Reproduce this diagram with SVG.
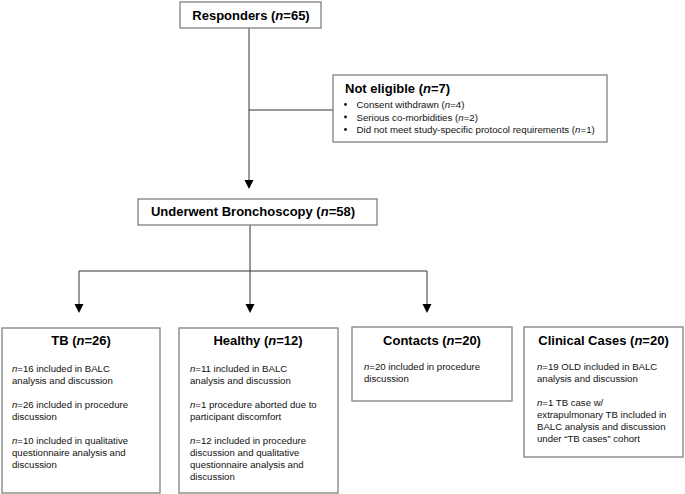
<svg xmlns="http://www.w3.org/2000/svg" width="685" height="494" viewBox="0 0 685 494">
<style>
.box{fill:#fff;stroke:#808080;stroke-width:1.3}
.t{font-family:"Liberation Sans",Arial,sans-serif;font-weight:bold;font-size:13px;fill:#000;text-anchor:middle}
.b{font-family:"Liberation Sans",Arial,sans-serif;font-size:9.6px;fill:#111}
.s{font-family:"Liberation Sans",Arial,sans-serif;font-size:9.7px;fill:#111}
.c{fill:none;stroke:#333;stroke-width:1}
.ah{fill:#000}
</style>
<rect width="685" height="494" fill="#fff"/>
<g id="connectors">
<path class="c" d="M249,28 V182"/>
<path class="c" d="M249,110 H333"/>
<path class="c" d="M250,225 V271"/>
<path class="c" d="M79,305 V271 H427 V305"/>
<path class="c" d="M250,271 V305"/>
<polygon class="ah" points="244.5,180 253.5,180 249,189"/>
<polygon class="ah" points="74.5,304 83.5,304 79,313"/>
<polygon class="ah" points="245.5,304 254.5,304 250,313"/>
<polygon class="ah" points="422.5,304 431.5,304 427,313"/>
</g>
<g id="responders">
<rect class="box" x="180" y="2" width="141" height="26"/>
<text class="t" x="251" y="20">Responders (<tspan font-style="italic">n</tspan>=65)</text>
</g>
<g id="not-eligible">
<rect class="box" x="333" y="75" width="274" height="67"/>
<text class="t" x="345" y="93" style="text-anchor:start">Not eligible (<tspan font-style="italic">n</tspan>=7)</text>
<circle cx="345.5" cy="104.5" r="1.4" fill="#111"/>
<circle cx="345.5" cy="117" r="1.4" fill="#111"/>
<circle cx="345.5" cy="129.5" r="1.4" fill="#111"/>
<text class="s" x="356.5" y="108">Consent withdrawn (<tspan font-style="italic">n</tspan>=4)</text>
<text class="s" x="356.5" y="120.5">Serious co-morbidities (<tspan font-style="italic">n</tspan>=2)</text>
<text class="s" x="356.5" y="133">Did not meet study-specific protocol requirements (<tspan font-style="italic">n</tspan>=1)</text>
</g>
<g id="bronchoscopy">
<rect class="box" x="138" y="199" width="239" height="26"/>
<text class="t" x="253" y="216">Underwent Bronchoscopy (<tspan font-style="italic">n</tspan>=58)</text>
</g>
<g id="tb">
<rect class="box" x="2" y="328" width="158" height="165"/>
<text class="t" x="81" y="345">TB (<tspan font-style="italic">n</tspan>=26)</text>
<text class="b" x="12" y="372"><tspan font-style="italic">n</tspan>=16 included in BALC</text>
<text class="b" x="12" y="384">analysis and discussion</text>
<text class="b" x="12" y="408"><tspan font-style="italic">n</tspan>=26 included in procedure</text>
<text class="b" x="12" y="420">discussion</text>
<text class="b" x="12" y="444"><tspan font-style="italic">n</tspan>=10 included in qualitative</text>
<text class="b" x="12" y="456">questionnaire analysis and</text>
<text class="b" x="12" y="468">discussion</text>
</g>
<g id="healthy">
<rect class="box" x="179" y="328" width="159" height="165"/>
<text class="t" x="258" y="345">Healthy (<tspan font-style="italic">n</tspan>=12)</text>
<text class="b" x="190" y="372"><tspan font-style="italic">n</tspan>=11 included in BALC</text>
<text class="b" x="190" y="384">analysis and discussion</text>
<text class="b" x="190" y="408"><tspan font-style="italic">n</tspan>=1 procedure aborted due to</text>
<text class="b" x="190" y="420">participant discomfort</text>
<text class="b" x="190" y="444"><tspan font-style="italic">n</tspan>=12 included in procedure</text>
<text class="b" x="190" y="456">discussion and qualitative</text>
<text class="b" x="190" y="468">questionnaire analysis and</text>
<text class="b" x="190" y="480">discussion</text>
</g>
<g id="contacts">
<rect class="box" x="352" y="327" width="160" height="74"/>
<text class="t" x="432" y="345">Contacts (<tspan font-style="italic">n</tspan>=20)</text>
<text class="b" x="364" y="370"><tspan font-style="italic">n</tspan>=20 included in procedure</text>
<text class="b" x="364" y="382">discussion</text>
</g>
<g id="clinical">
<rect class="box" x="524" y="327" width="159" height="130"/>
<text class="t" x="603.5" y="345">Clinical Cases (<tspan font-style="italic">n</tspan>=20)</text>
<text class="b" x="537" y="370"><tspan font-style="italic">n</tspan>=19 OLD included in BALC</text>
<text class="b" x="537" y="382">analysis and discussion</text>
<text class="b" x="537" y="406"><tspan font-style="italic">n</tspan>=1 TB case w/</text>
<text class="b" x="537" y="418">extrapulmonary TB included in</text>
<text class="b" x="537" y="430">BALC analysis and discussion</text>
<text class="b" x="537" y="442">under “TB cases” cohort</text>
</g>
</svg>
